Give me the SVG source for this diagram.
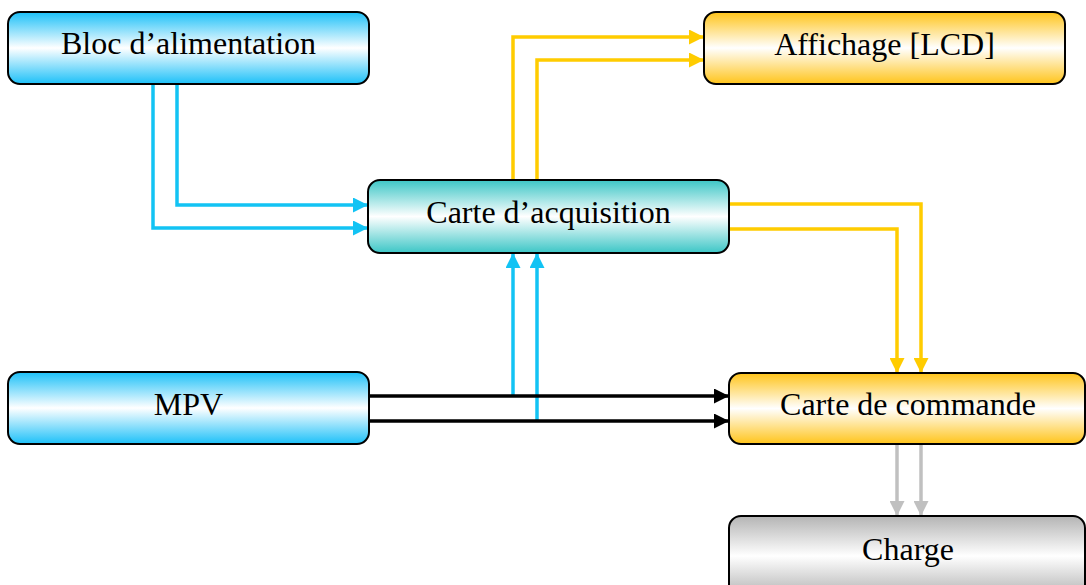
<svg xmlns="http://www.w3.org/2000/svg" width="1086" height="585" viewBox="0 0 1086 585">
<style>
.box{stroke:#000;stroke-width:2}
.lbl{font-family:"Liberation Serif","Times New Roman",serif;font-size:32px;fill:#000;text-anchor:middle}
.c{fill:none;stroke-width:3.5}
.blue{stroke:#12c3f4}
.yel{stroke:#ffcc00}
.blk{stroke:#000}
.gry{stroke:#c0c0c0}
</style>
<defs>
<linearGradient id="gBlue" x1="0" y1="0" x2="0" y2="1">
<stop offset="0" stop-color="#1cc0f8"/><stop offset="0.5" stop-color="#ffffff"/><stop offset="1" stop-color="#1cc0f8"/>
</linearGradient>
<linearGradient id="gTeal" x1="0" y1="0" x2="0" y2="1">
<stop offset="0" stop-color="#3cc6c6"/><stop offset="0.5" stop-color="#ffffff"/><stop offset="1" stop-color="#3cc6c6"/>
</linearGradient>
<linearGradient id="gYel" x1="0" y1="0" x2="0" y2="1">
<stop offset="0" stop-color="#ffc41a"/><stop offset="0.5" stop-color="#ffffff"/><stop offset="1" stop-color="#ffc41a"/>
</linearGradient>
<linearGradient id="gGry" x1="0" y1="0" x2="0" y2="1">
<stop offset="0" stop-color="#b4b4b4"/><stop offset="0.5" stop-color="#ffffff"/><stop offset="1" stop-color="#b4b4b4"/>
</linearGradient>
<marker id="aBlue" viewBox="0 0 10 10" refX="10" refY="5" markerWidth="15" markerHeight="15" markerUnits="userSpaceOnUse" orient="auto"><path d="M0,0 L10,5 L0,10 Z" fill="#12c3f4"/></marker>
<marker id="aYel" viewBox="0 0 10 10" refX="10" refY="5" markerWidth="15" markerHeight="15" markerUnits="userSpaceOnUse" orient="auto"><path d="M0,0 L10,5 L0,10 Z" fill="#ffcc00"/></marker>
<marker id="aBlk" viewBox="0 0 10 10" refX="10" refY="5" markerWidth="15" markerHeight="15" markerUnits="userSpaceOnUse" orient="auto"><path d="M0,0 L10,5 L0,10 Z" fill="#000"/></marker>
<marker id="aGry" viewBox="0 0 10 10" refX="10" refY="5" markerWidth="15" markerHeight="15" markerUnits="userSpaceOnUse" orient="auto"><path d="M0,0 L10,5 L0,10 Z" fill="#c0c0c0"/></marker>
</defs>
<g id="connectors">
<path class="c blue" d="M153,84 V228 H368" marker-end="url(#aBlue)"/>
<path class="c blue" d="M177,84 V205 H368" marker-end="url(#aBlue)"/>
<path class="c blue" d="M513,396 V253" marker-end="url(#aBlue)"/>
<path class="c blue" d="M537,421 V253" marker-end="url(#aBlue)"/>
<path class="c blk" d="M369,396 H729" marker-end="url(#aBlk)"/>
<path class="c blk" d="M369,421 H729" marker-end="url(#aBlk)"/>
<path class="c yel" d="M513,180 V37 H704" marker-end="url(#aYel)"/>
<path class="c yel" d="M537,180 V60 H704" marker-end="url(#aYel)"/>
<path class="c yel" d="M729,204 H921 V373" marker-end="url(#aYel)"/>
<path class="c yel" d="M729,229 H897 V373" marker-end="url(#aYel)"/>
<path class="c gry" d="M897,444 V516" marker-end="url(#aGry)"/>
<path class="c gry" d="M921,444 V516" marker-end="url(#aGry)"/>
</g>
<g id="bloc">
<rect class="box" x="8" y="12" width="361" height="72" rx="12" fill="url(#gBlue)"/>
<text class="lbl" x="188.5" y="54">Bloc d’alimentation</text>
</g>
<g id="affichage">
<rect class="box" x="704" y="12" width="361" height="72" rx="12" fill="url(#gYel)"/>
<text class="lbl" x="884.5" y="55">Affichage [LCD]</text>
</g>
<g id="acquisition">
<rect class="box" x="368" y="180" width="361" height="73" rx="12" fill="url(#gTeal)"/>
<text class="lbl" x="548.5" y="223">Carte d’acquisition</text>
</g>
<g id="mpv">
<rect class="box" x="8" y="372" width="361" height="72" rx="12" fill="url(#gBlue)"/>
<text class="lbl" x="188.5" y="415">MPV</text>
</g>
<g id="commande">
<rect class="box" x="729" y="373" width="356" height="71" rx="12" fill="url(#gYel)"/>
<text class="lbl" x="908" y="415">Carte de commande</text>
</g>
<g id="charge">
<rect class="box" x="729" y="516" width="356" height="80" rx="12" fill="url(#gGry)"/>
<text class="lbl" x="908" y="560">Charge</text>
</g>
</svg>
